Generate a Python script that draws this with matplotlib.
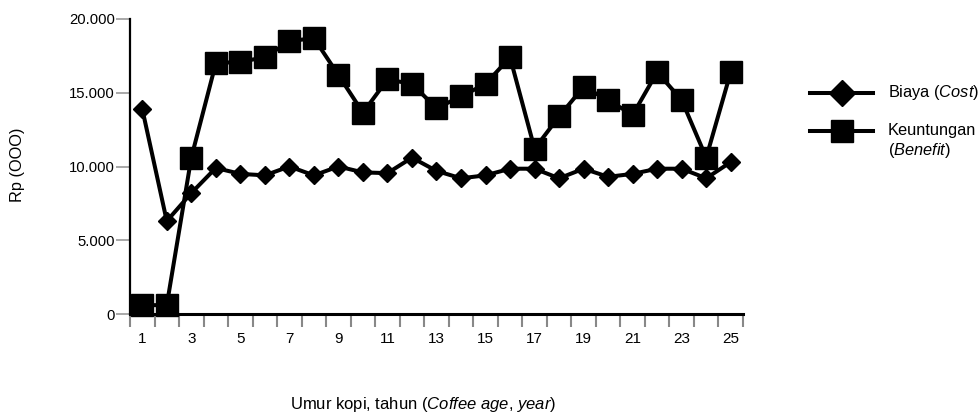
import matplotlib
matplotlib.use("Agg")
import matplotlib.pyplot as plt
from matplotlib.lines import Line2D
from matplotlib import font_manager

names = {f.name for f in font_manager.fontManager.ttflist}
base = "Liberation Sans Narrow" if "Liberation Sans Narrow" in names else "Liberation Sans"
plt.rcParams['font.family'] = [base, 'DejaVu Sans']
plt.rcParams['mathtext.fontset'] = 'custom'
plt.rcParams['mathtext.it'] = base + ':italic'
plt.rcParams['mathtext.rm'] = base

years = list(range(1, 26))
biaya = [13900, 6300, 8200, 9900, 9500, 9400, 10000, 9400, 10000, 9600,
         9550, 10600, 9700, 9200, 9400, 9850, 9850, 9200, 9850, 9300,
         9500, 9850, 9850, 9200, 10300]
keuntungan = [600, 600, 10600, 17000, 17100, 17400, 18500, 18700, 16200, 13650,
              15900, 15600, 13950, 14750, 15600, 17400, 11200, 13400, 15400, 14500,
              13500, 16400, 14500, 10600, 16400]
yticks = [0, 5000, 10000, 15000, 20000]
ytick_labels = ["0", "5.000", "10.000", "15.000", "20.000"]
xtick_vals = list(range(1, 26, 2))

W, H = 979, 416
fig = plt.figure(figsize=(W / 100, H / 100), dpi=100)
ax = fig.add_axes([130 / W, 1 - 314 / H, 613 / W, (314 - 19) / H])

ax.plot(years, biaya, color='black', lw=2.9, marker='D', ms=9.5,
        clip_on=False, zorder=3)
ax.plot(years, keuntungan, color='black', lw=2.9, marker='s', ms=15.5,
        clip_on=False, zorder=3)

ax.set_xlim(0.5, 25.5)
ax.set_ylim(0, 20000)
ax.set_yticks(yticks)
ax.set_yticklabels(ytick_labels)
ax.set_xticks(xtick_vals)
ax.set_xticklabels([str(v) for v in xtick_vals])
ax.set_xticks([v + 0.5 for v in range(0, 26)], minor=True)
ax.tick_params(axis='x', which='major', length=0, pad=13, labelsize=11)
ax.tick_params(axis='x', which='minor', length=9, width=1.5, color='#888888')
ax.tick_params(axis='y', which='major', length=10, width=1.2, color='#999999',
               pad=1, labelsize=10.7)

for s in ['top', 'right']:
    ax.spines[s].set_visible(False)
ax.spines['left'].set_linewidth(1.6)
ax.spines['bottom'].set_linewidth(2.2)

fig.text(18 / W, 1 - 165 / H, "Rp (OOO)", rotation=90, ha='center',
         va='center', fontsize=11.8)
fig.text(423 / W, 1 - 405 / H, r"Umur kopi, tahun ($\it{Coffee\ age}$, $\it{year}$)",
         ha='center', va='center', fontsize=12)

# legend
def leg(y, marker, ms):
    fig.add_artist(Line2D([810 / W, 873 / W], [1 - y / H, 1 - y / H],
                          color='black', lw=2.9))
    fig.add_artist(Line2D([842 / W], [1 - y / H], color='black',
                          marker=marker, ms=ms, lw=0))

leg(92.5, 'D', 13)
leg(131, 's', 15.5)
fig.text(888 / W, 1 - 92.5 / H, r"Biaya ($\it{Cost}$)", ha='left',
         va='center', fontsize=11.8)
fig.text(888 / W, 1 - 131 / H, "Keuntungan", ha='left', va='center', fontsize=11.8)
fig.text(888 / W, 1 - 151 / H, r"($\it{Benefit}$)", ha='left', va='center',
         fontsize=11.8)

fig.savefig("out.png", dpi=100)
